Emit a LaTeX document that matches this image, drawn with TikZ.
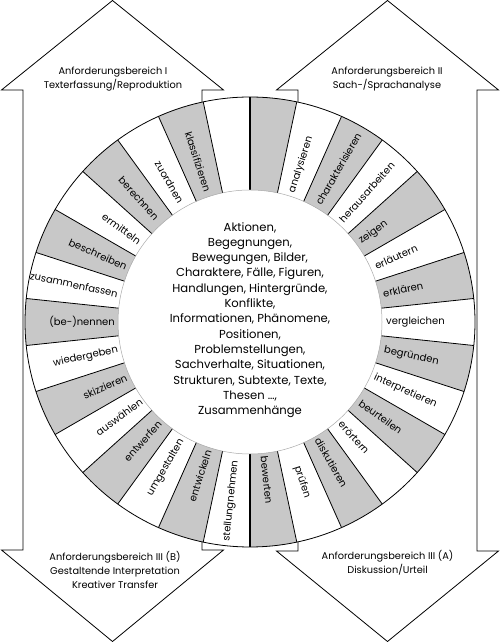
\documentclass[tikz,border=0pt]{standalone}
\usepackage{fontspec}
\setmainfont{Poppins}
\definecolor{sectorgray}{RGB}{200,200,200}
\definecolor{innerline}{RGB}{170,170,170}
\tikzset{
  lbl/.style={font=\fontsize{10}{12}\selectfont, inner sep=0pt},
  headtext/.style={font=\fontsize{9.8}{14}\selectfont, align=center, inner sep=0pt},
  centertext/.style={font=\fontsize{11.6}{15.3}\selectfont, align=center, inner sep=0pt},
  arrowshape/.style={draw=black, fill=white, line width=0.8pt, line join=miter},
  spoke/.style={draw=black, line width=0.8pt},
  midspoke/.style={draw=black, line width=1.6pt},
}
\begin{document}
\begin{tikzpicture}[x=1pt,y=1pt]
\useasboundingbox (0,0) rectangle (500,642);
% left double arrow
\draw[arrowshape] (112.5,641.5) -- (223.5,552) -- (202,552) -- (202,92) -- (223.5,92)
  -- (112.5,0.5) -- (1.5,92) -- (23,92) -- (23,552) -- (1.5,552) -- cycle;
% right double arrow
\draw[arrowshape] (387.5,641.5) -- (498.5,552) -- (477,552) -- (477,91) -- (498.5,91)
  -- (387.5,0.5) -- (276.5,91) -- (298,91) -- (298,552) -- (276.5,552) -- cycle;
% ring
\begin{scope}[shift={(250,320)}]
  \fill[white] (0,0) circle (225);
  \foreach \k in {0,2,...,28} {
    \pgfmathsetmacro\a{90-12*\k}
    \pgfmathsetmacro\b{\a-12}
    \fill[sectorgray] (\a:132) arc[start angle=\a, end angle=\b, radius=132]
      -- (\b:225) arc[start angle=\b, end angle=\a, radius=225] -- cycle;
  }
  \foreach \k in {1,...,14,16,17,...,29} {
    \pgfmathsetmacro\a{90-12*\k}
    \draw[spoke] (\a:132) -- (\a:225);
  }
  \draw[midspoke] (90:132) -- (90:225);
  \draw[midspoke] (270:132) -- (270:225);
  \draw[line width=0.8pt] (0,0) circle (225);
  \draw[innerline, line width=0.5pt] (0,0) circle (132);
  \foreach \k/\t/\r in {1/analysieren/136, 2/charakterisieren/136, 3/herausarbeiten/136,
      4/zeigen/136, 5/erläutern/137, 6/erklären/136, 7/vergleichen/136, 8/begründen/137,
      9/interpretieren/136, 10/beurteilen/136, 11/erörtern/135, 12/diskutieren/135,
      13/prüfen/152, 14/bewerten/135, 15/stellungnehmen/139, 16/entwickeln/135,
      17/umgestalten/136, 18/entwerfen/135, 19/auswählen/134, 20/skizzieren/135,
      21/wiedergeben/135, 22/{(be-)nennen}/135, 23/zusammenfassen/135, 24/beschreiben/135,
      25/ermitteln/136, 26/berechnen/139, 27/zuordnen/138, 28/klassifizieren/137} {
    \pgfmathsetmacro\th{84-12*\k}
    \ifnum\k<15
      \node[lbl, rotate=\th, anchor=west] (s\k) at (\th:\r) {\t};
    \else
      \pgfmathsetmacro\rot{\th+180}
      \node[lbl, rotate=\rot, anchor=east] (s\k) at (\th:\r) {\t};
    \fi
  }
\end{scope}
\node[centertext] (objects) at (250,322) {Aktionen,\\Begegnungen,\\Bewegungen, Bilder,\\Charaktere, Fälle, Figuren,\\Handlungen, Hintergründe,\\Konflikte,\\Informationen, Phänomene,\\Positionen,\\Problemstellungen,\\Sachverhalte, Situationen,\\Strukturen, Subtexte, Texte,\\Thesen \dots,\\Zusammenhänge};
\node[headtext] (afb1) at (113,563) {Anforderungsbereich I\\Texterfassung/Reproduktion};
\node[headtext] (afb2) at (387,563) {Anforderungsbereich II\\Sach-/Sprachanalyse};
\node[headtext] (afb3b) at (115,72.5) {Anforderungsbereich III (B)\\Gestaltende Interpretation\\Kreativer Transfer};
\node[headtext] (afb3a) at (387.5,79) {Anforderungsbereich III (A)\\Diskussion/Urteil};
\end{tikzpicture}
\end{document}
